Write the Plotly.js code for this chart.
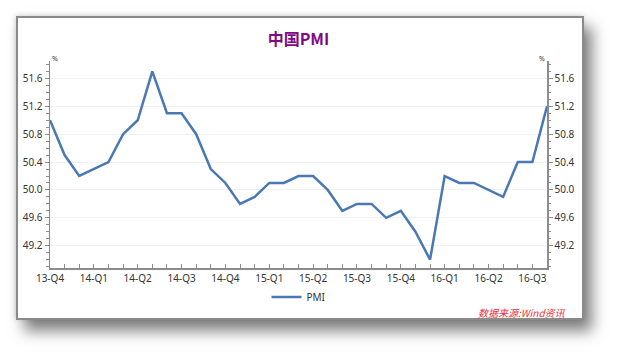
<!DOCTYPE html>
<html>
<head>
<meta charset="utf-8">
<script src="https://cdn.plot.ly/plotly-3.0.1.min.js"></script>
<style>
  html, body { margin:0; padding:0; background:#ffffff; width:619px; height:357px; overflow:hidden; }
  #frame { position:absolute; left:16px; top:16px; width:564px; height:300px; border:2px solid #8a8a8a; background:#fff;
           box-shadow: 8px 11px 14px rgba(0,0,0,0.5), -1px -1px 5px rgba(0,0,0,0.15); }
  #chart { position:absolute; left:0; top:0; width:619px; height:357px; }
</style>
</head>
<body>
<div id="frame"></div>
<div id="chart"></div>
<script>
// Monthly China PMI, Dec 2013 - Oct 2016
const months = ["2013-12","2014-01","2014-02","2014-03","2014-04","2014-05","2014-06","2014-07","2014-08","2014-09","2014-10","2014-11","2014-12",
  "2015-01","2015-02","2015-03","2015-04","2015-05","2015-06","2015-07","2015-08","2015-09","2015-10","2015-11","2015-12",
  "2016-01","2016-02","2016-03","2016-04","2016-05","2016-06","2016-07","2016-08","2016-09","2016-10"];
const pmi = [51.0,50.5,50.2,50.3,50.4,50.8,51.0,51.7,51.1,51.1,50.8,50.3,50.1,
  49.8,49.9,50.1,50.1,50.2,50.2,50.0,49.7,49.8,49.8,49.6,49.7,
  49.4,49.0,50.2,50.1,50.1,50.0,49.9,50.4,50.4,51.2];
const quarterLabels = {"2013-12":"13-Q4","2014-03":"14-Q1","2014-06":"14-Q2","2014-09":"14-Q3","2014-12":"14-Q4",
  "2015-03":"15-Q1","2015-06":"15-Q2","2015-09":"15-Q3","2015-12":"15-Q4","2016-03":"16-Q1","2016-06":"16-Q2","2016-09":"16-Q3"};
const seriesName = "PMI";
const titleText = "中国PMI";
const sourceText = "数据来源:Wind资讯";
const unitText = "%";

const tickFont = {family:"Noto Sans, Segoe UI, sans-serif", size:10, color:"#333333"};
const axisColor = "#8c8c8c";
const yRange = [48.88, 51.85];

const traces = [
  {x: months, y: pmi, type:"scatter", mode:"lines", name: seriesName,
   line:{color:"#4a78b4", width:2.5}, hoverinfo:"skip"},
  {x: months, y: pmi, type:"scatter", mode:"lines", yaxis:"y2", showlegend:false,
   line:{color:"rgba(0,0,0,0)", width:0}, hoverinfo:"skip"}
];

const layout = {
  width:619, height:357,
  paper_bgcolor:"rgba(0,0,0,0)", plot_bgcolor:"rgba(0,0,0,0)",
  margin:{l:50, r:72, t:61, b:89},
  showlegend:true,
  title:{text:"<b>"+titleText+"</b>", font:{family:"Noto Sans CJK SC, sans-serif", size:16, color:"#800a86"},
         x:0.5, xref:"paper", xanchor:"center", y:1-39/357, yref:"container", yanchor:"middle"},
  xaxis:{type:"category", range:[0, months.length-1], tickmode:"array",
         tickvals: months, ticktext: months.map(m => quarterLabels[m] || ""),
         ticks:"inside", ticklen:4, tickcolor:axisColor, tickwidth:1,
         showline:true, linecolor:axisColor, linewidth:1.5, showgrid:false, zeroline:false,
         tickfont:tickFont, fixedrange:true},
  yaxis:{range:yRange, tickmode:"linear", tick0:49.2, dtick:0.4, tickformat:".1f",
         ticks:"outside", ticklen:4, tickcolor:axisColor, showline:true, linecolor:axisColor, linewidth:1.5,
         showgrid:true, gridcolor:"#f1f1f1", gridwidth:1, zeroline:false, tickfont:tickFont,
         minor:{dtick:0.1, tick0:49.2, ticks:"outside", ticklen:2.5, tickcolor:axisColor, showgrid:false}},
  yaxis2:{range:yRange, overlaying:"y", side:"right", tickmode:"linear", tick0:49.2, dtick:0.4, tickformat:".1f",
         ticks:"outside", ticklen:4, tickcolor:axisColor, showline:true, linecolor:axisColor, linewidth:1.5,
         showgrid:false, zeroline:false, tickfont:tickFont,
         minor:{dtick:0.1, tick0:49.2, ticks:"outside", ticklen:2.5, tickcolor:axisColor, showgrid:false}},
  legend:{orientation:"h", x:0.5, xanchor:"center", y:-0.14, yanchor:"middle",
          font:{family:"Noto Sans, sans-serif", size:10, color:"#333333"}, itemwidth:30, bgcolor:"rgba(0,0,0,0)"},
  annotations:[
    {text:unitText, xref:"paper", yref:"paper", x:0, y:1, xanchor:"left", yanchor:"bottom", showarrow:false,
     font:{family:"Noto Sans, sans-serif", size:7, color:"#333"}, xshift:0, yshift:-4},
    {text:unitText, xref:"paper", yref:"paper", x:1, y:1, xanchor:"right", yanchor:"bottom", showarrow:false,
     font:{family:"Noto Sans, sans-serif", size:7, color:"#333"}, xshift:0, yshift:-4},
    {text:"<i>"+sourceText+"</i>", xref:"paper", yref:"paper", x:(568-50)/497, y:(268-312)/207, xanchor:"right", yanchor:"middle",
     showarrow:false, font:{family:"Noto Sans CJK SC, sans-serif", size:10, color:"#e8303a"}}
  ]
};

Plotly.newPlot("chart", traces, layout, {staticPlot:true, displayModeBar:false});
</script>
</body>
</html>
